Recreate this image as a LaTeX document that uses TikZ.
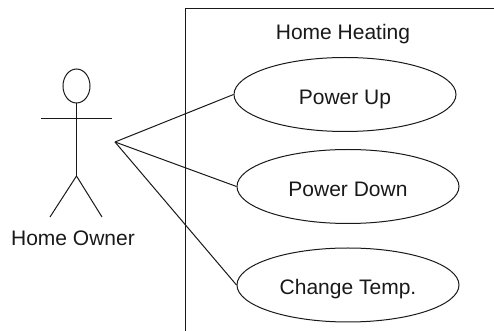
\documentclass[tikz,border=0pt]{standalone}
\usepackage{fontspec}
\setmainfont{Liberation Sans}
\usetikzlibrary{positioning, shapes.geometric}

\begin{document}
\begin{tikzpicture}[x=0.75pt, y=-0.75pt, draw=black!90, line width=0.75pt,
		usecase/.style={draw, ellipse, inner sep=0pt, minimum width=166.5pt, minimum height=55.5pt, text height=15pt, text depth=0pt},
		label/.style={font=\fontsize{15.75}{18}\selectfont, text=black!90, inner sep=0pt}]
		\useasboundingbox (0,0) rectangle (494,331);
		%system
		\coordinate (sysbl) at (185,331);
		\coordinate (systr) at (494,9);
		\draw (sysbl) |- (systr);
		\node[label] (system) at (343,34) {Home Heating};
		%use cases
		\node[usecase, label, draw, ellipse] (up) at (345,94.5) {Power Up};
		\node[usecase, label, draw, ellipse] (down) at (348,186.5) {Power Down};
		\node[usecase, label, draw, ellipse] (temp) at (348,285) {Change Temp.};
		%actor
		\node[draw, ellipse, inner sep=0pt, minimum width=20.25pt, minimum height=25.5pt] (head) at (76.5,86) {};
		\coordinate (hip) at (76.5,176);
		\coordinate (armL) at (41,119);
		\coordinate (armR) at (112,119);
		\coordinate (footL) at (50,217);
		\coordinate (footR) at (102,217);
		\coordinate (link) at (115,142);
		\draw (head.south) -- (hip);
		\draw (armL) -- (armR);
		\draw (footL) -- (hip) -- (footR);
		\node[label] (owner) at (73,238) {Home Owner};
		%links
		\draw (link) -- (up.west);
		\draw (link) -- (down.west);
		\draw (link) -- (temp.west);
\end{tikzpicture}
\end{document}
